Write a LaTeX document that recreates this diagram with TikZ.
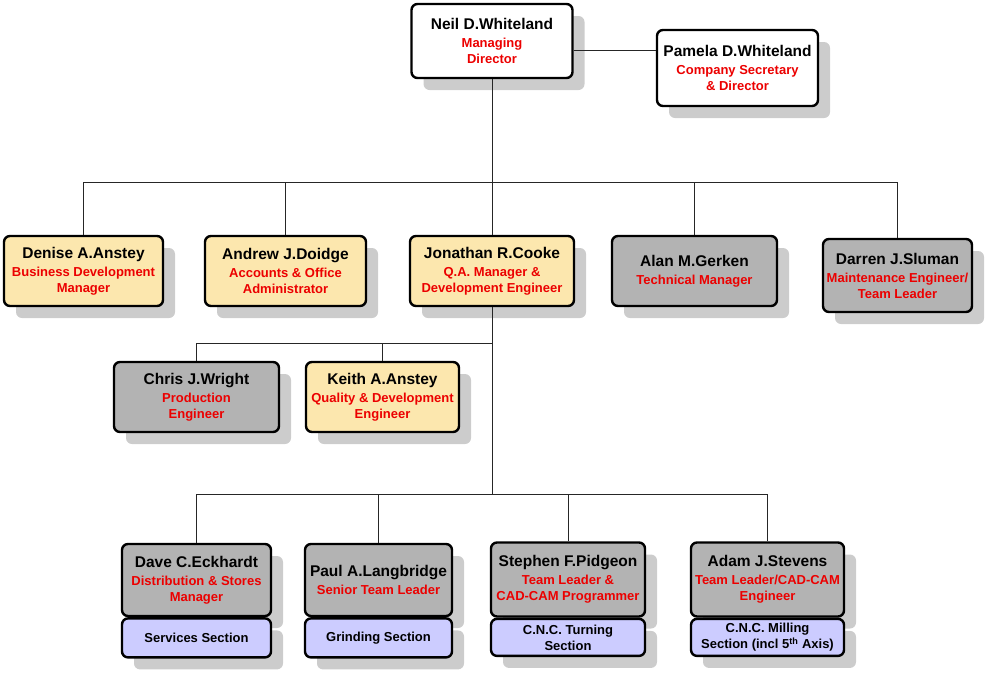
\documentclass[tikz,border=0pt]{standalone}
\usepackage{fontspec}
\setmainfont{Liberation Sans}
\usetikzlibrary{shadows}

\definecolor{cardyellow}{RGB}{252,231,174}
\definecolor{cardgrey}{RGB}{179,179,179}
\definecolor{cardlilac}{RGB}{204,204,255}
\definecolor{rolered}{RGB}{236,0,0}
\definecolor{shadowgrey}{RGB}{204,204,204}

\newcommand{\pname}[1]{{\fontsize{15.5}{18}\selectfont #1}}
\newcommand{\prole}[1]{{\color{rolered}#1}}

\begin{document}
\begin{tikzpicture}[x=1pt,y=-1pt,
    card/.style={draw,line width=2.4pt,rounded corners=6pt,align=center,inner sep=1pt,
        font=\fontsize{13}{16}\selectfont\bfseries,
        drop shadow={shadow xshift=12pt,shadow yshift=-12pt,fill=shadowgrey,opacity=1}},
    section/.style={card,fill=cardlilac,anchor=north},
    link/.style={draw=black!85,line width=1pt}]
    \useasboundingbox (0,0) rectangle (987,673);

    \node[card,fill=white,minimum width=161,minimum height=74] (neil) at (492,41)
        {\pname{Neil D.Whiteland}\\[2pt]\prole{Managing}\\\prole{Director}};
    \node[card,fill=white,minimum width=161,minimum height=76] (pamela) at (737.5,68)
        {\pname{Pamela D.Whiteland}\\[2pt]\prole{Company Secretary}\\\prole{\& Director}};

    \node[card,fill=cardyellow,minimum width=159,minimum height=70] (denise) at (83.5,271)
        {\pname{Denise A.Anstey}\\[2pt]\prole{Business Development}\\\prole{Manager}};
    \node[card,fill=cardyellow,minimum width=161,minimum height=70] (andrew) at (285.5,271)
        {\pname{Andrew J.Doidge}\\[2pt]\prole{Accounts \& Office}\\\prole{Administrator}};
    \node[card,fill=cardyellow,minimum width=164,minimum height=70] (jonathan) at (492,271)
        {\pname{Jonathan R.Cooke}\\[2pt]\prole{Q.A. Manager \&}\\\prole{Development Engineer}};
    \node[card,fill=cardgrey,minimum width=165,minimum height=70] (alan) at (694.5,271)
        {\pname{Alan M.Gerken}\\[2pt]\prole{Technical Manager}};
    \node[card,fill=cardgrey,minimum width=149,minimum height=73] (darren) at (897.5,275.5)
        {\pname{Darren J.Sluman}\\[2pt]\prole{Maintenance Engineer/}\\\prole{Team Leader}};

    \node[card,fill=cardgrey,minimum width=165,minimum height=70] (chris) at (196.5,397)
        {\pname{Chris J.Wright}\\[2pt]\prole{Production}\\\prole{Engineer}};
    \node[card,fill=cardyellow,minimum width=153,minimum height=70] (keith) at (382.5,397)
        {\pname{Keith A.Anstey}\\[2pt]\prole{Quality \& Development}\\\prole{Engineer}};

    \node[card,fill=cardgrey,minimum width=149,minimum height=72] (dave) at (196.5,580)
        {\pname{Dave C.Eckhardt}\\[2pt]\prole{Distribution \& Stores}\\\prole{Manager}};
    \node[section,minimum width=149,minimum height=39] (daveSec) at (dave.south) {Services Section};
    \node[card,fill=cardgrey,minimum width=147,minimum height=72] (paul) at (378.5,580)
        {\pname{Paul A.Langbridge}\\[2pt]\prole{Senior Team Leader}};
    \node[section,minimum width=147,minimum height=39] (paulSec) at (paul.south) {Grinding Section};
    \node[card,fill=cardgrey,minimum width=154,minimum height=74] (stephen) at (568,579.5)
        {\pname{Stephen F.Pidgeon}\\[2pt]\prole{Team Leader \&}\\\prole{CAD-CAM Programmer}};
    \node[section,minimum width=154,minimum height=37] (stephenSec) at (stephen.south) {C.N.C. Turning\\Section};
    \node[card,fill=cardgrey,minimum width=153,minimum height=74] (adam) at (767.5,579.5)
        {\pname{Adam J.Stevens}\\[2pt]\prole{Team Leader/CAD-CAM}\\\prole{Engineer}};
    \node[section,minimum width=153,minimum height=37] (adamSec) at (adam.south) {C.N.C. Milling\\Section (incl 5\textsuperscript{th} Axis)};

    \coordinate (topbus) at (492,182);
    \coordinate (midbus) at (492,343);
    \coordinate (lowbus) at (492,494);

    \draw[link] ([yshift=-9pt]neil.east) -- ([yshift=-9pt]neil.east -| pamela.west);
    \draw[link] (neil) -- (topbus);
    \draw[link] (topbus -| denise) -- (topbus -| darren);
    \foreach \n in {denise,andrew,jonathan,alan,darren}
        \draw[link] (topbus -| \n) -- (\n);

    \draw[link] (jonathan) -- (lowbus);
    \draw[link] (midbus -| chris) -- (midbus);
    \foreach \n in {chris,keith}
        \draw[link] (midbus -| \n) -- (\n);

    \draw[link] (lowbus -| dave) -- (lowbus -| adam);
    \foreach \n in {dave,paul,stephen,adam}
        \draw[link] (lowbus -| \n) -- (\n);
\end{tikzpicture}
\end{document}
